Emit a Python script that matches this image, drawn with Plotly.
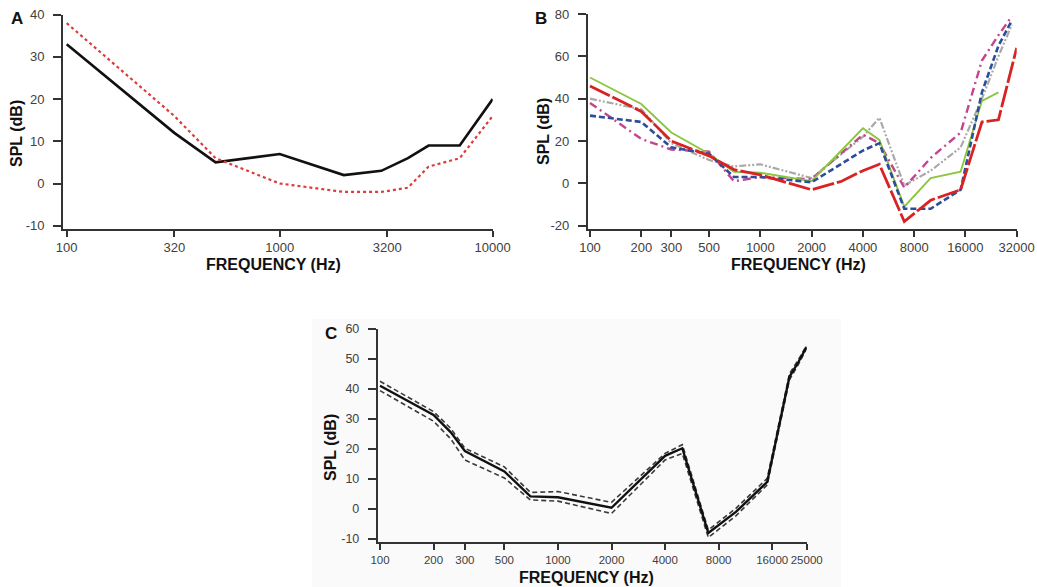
import plotly.graph_objects as go
import math

W, H = 1037, 587

# ---------------- Panel A data ----------------
a_freq = [100, 320, 500, 1000, 2000, 3000, 4000, 5000, 7000, 10000]
a_black = [33, 12, 5, 7, 2, 3, 6, 9, 9, 20]
a_red = [38, 16, 6, 0, -2, -2, -1, 4, 6, 16]
a_ticks = [100, 320, 1000, 3200, 10000]
a_yticks = [-10, 0, 10, 20, 30, 40]

# ---------------- Panel B data ----------------
b_freq_red = [100, 200, 300, 500, 700, 1000, 2000, 3000, 4000, 5000, 7000, 10000, 15000, 20000, 25000, 32000]
b_red = [46, 34, 20, 13, 6.5, 4, -3, 1, 6, 9, -18, -8, -3, 29, 30, 64]
b_freq_green = [100, 200, 300, 500, 700, 1000, 2000, 4000, 5000, 7000, 10000, 15000, 20000, 25000]
b_green = [50, 37.5, 24, 14, 5.5, 5, 1, 26, 20.5, -11, 2.5, 5.5, 39, 43]
b_freq_other = [100, 200, 300, 500, 700, 1000, 2000, 4000, 5000, 7000, 10000, 15000, 20000, 25000, 30000]
b_blue = [32, 29, 17, 14, 3, 3, 0.5, 15.5, 19, -12, -12, -3, 43, 65, 77]
b_pink = [38, 21, 16, 15, 1, 3, 2, 23, 19, -2, 12, 24, 58, 70, 79]
b_gray = [40, 35, 19, 11, 8, 9, 2.5, 22, 31, -1, 6, 17, 40, 60, 75]
b_ticks = [100, 200, 300, 500, 1000, 2000, 4000, 8000, 16000, 32000]
b_yticks = [-20, 0, 20, 40, 60, 80]

# ---------------- Panel C data ----------------
c_freq = [100, 200, 250, 300, 500, 700, 1000, 2000, 4000, 5000, 7000, 10000, 15000, 16000, 18000, 20000, 22500, 25000]
c_mean = [41, 31.3, 25.5, 19.3, 12.5, 4.2, 3.9, 0.4, 17.7, 20.2, -8, -1, 9, 17, 32, 44, 49, 54]
c_upper = [42.5, 32.4, 26.8, 20.2, 14, 5.5, 5.8, 2.2, 18.5, 21.4, -7, 0.2, 10.2, 18, 33, 45, 49.8, 54.5]
c_lower = [39.4, 29.2, 23.3, 16.3, 10.3, 3, 2.6, -1.5, 16.3, 18.5, -9.5, -2.3, 8, 16, 31, 43, 48.2, 53.5]
c_ticks = [100, 200, 300, 500, 1000, 2000, 4000, 8000, 16000, 25000]
c_yticks = [-10, 0, 10, 20, 30, 40, 50, 60]

FONT = "Liberation Sans, Arial, sans-serif"
AX = "#333333"
TICKC = "#404040"

def px(x):
    return x / W

def py(y):
    return 1 - y / H

fig = go.Figure()

# Panel A
fig.add_trace(go.Scatter(x=a_freq, y=a_black, mode="lines", line=dict(color="#111111", width=2.6),
                         xaxis="x", yaxis="y", showlegend=False))
fig.add_trace(go.Scatter(x=a_freq, y=a_red, mode="lines", line=dict(color="#e03a3a", width=2.2, dash="dot"),
                         xaxis="x", yaxis="y", showlegend=False))

# Panel B
fig.add_trace(go.Scatter(x=b_freq_other, y=b_gray, mode="lines",
                         line=dict(color="#a9a9a9", width=2.2, dash="7px,2px,2px,2px,2px,2px"),
                         xaxis="x2", yaxis="y2", showlegend=False))
fig.add_trace(go.Scatter(x=b_freq_other, y=b_pink, mode="lines",
                         line=dict(color="#c4448e", width=2.4, dash="8px,4px,2px,4px"),
                         xaxis="x2", yaxis="y2", showlegend=False))
fig.add_trace(go.Scatter(x=b_freq_green, y=b_green, mode="lines",
                         line=dict(color="#8cc63f", width=1.9),
                         xaxis="x2", yaxis="y2", showlegend=False))
fig.add_trace(go.Scatter(x=b_freq_other, y=b_blue, mode="lines",
                         line=dict(color="#2a4d9e", width=2.6, dash="6px,3px"),
                         xaxis="x2", yaxis="y2", showlegend=False))
fig.add_trace(go.Scatter(x=b_freq_red, y=b_red, mode="lines",
                         line=dict(color="#d92222", width=2.8, dash="22px,3px"),
                         xaxis="x2", yaxis="y2", showlegend=False))

# Panel C
fig.add_trace(go.Scatter(x=c_freq, y=c_upper, mode="lines",
                         line=dict(color="#3a3a3a", width=1.6, dash="5px,3px"),
                         xaxis="x3", yaxis="y3", showlegend=False))
fig.add_trace(go.Scatter(x=c_freq, y=c_lower, mode="lines",
                         line=dict(color="#3a3a3a", width=1.6, dash="5px,3px"),
                         xaxis="x3", yaxis="y3", showlegend=False))
fig.add_trace(go.Scatter(x=c_freq, y=c_mean, mode="lines",
                         line=dict(color="#111111", width=2.4),
                         xaxis="x3", yaxis="y3", showlegend=False))

def xax(domain, rng, ticks, anchor, size):
    return dict(type="log", domain=domain, range=rng, anchor=anchor,
                tickvals=ticks, ticktext=[str(t) for t in ticks],
                showline=True, linecolor=AX, linewidth=1.8, mirror=False,
                ticks="outside", ticklen=6, tickwidth=1.6, tickcolor=AX,
                tickangle=0, automargin=False,
                showgrid=False, zeroline=False,
                tickfont=dict(family=FONT, size=size, color=TICKC))

def yax(domain, rng, ticks, anchor, size):
    return dict(domain=domain, range=rng, anchor=anchor,
                tickvals=ticks, ticktext=[str(t) for t in ticks],
                showline=True, linecolor=AX, linewidth=1.8,
                ticks="outside", ticklen=8, tickwidth=1.6, tickcolor=AX,
                ticklabelstandoff=6, automargin=False,
                showgrid=False, zeroline=False,
                tickfont=dict(family=FONT, size=size, color=TICKC))

# Panel A geometry
a_x0, a_x1 = 63.0, 492.7
a_y40, a_ym10, a_axis = 14.7, 225.7, 228.7
a_ppu = (a_ym10 - a_y40) / 50.0
a_ybot = -10 - (a_axis - a_ym10) / a_ppu
a_dec = (a_x1 - 66.7) / 2.0
a_xlo = 2 - (66.7 - a_x0) / a_dec

# Panel B geometry
b_x0, b_x1 = 587.7, 1016.7
b_dec = (b_x1 - 590.0) / (math.log10(32000) - 2)
b_xlo = 2 - (590.0 - b_x0) / b_dec
b_y80, b_ym20, b_axis = 14.0, 225.7, 228.7
b_ppu = (b_ym20 - b_y80) / 100.0
b_ybot = -20 - (b_axis - b_ym20) / b_ppu

# Panel C geometry
c_x0, c_x1 = 377.7, 806.7
c_dec = (c_x1 - 380.0) / (math.log10(25000) - 2)
c_xlo = 2 - (380.0 - c_x0) / c_dec
c_y60, c_ym10, c_axis = 328.7, 539.0, 542.3
c_ppu = (c_ym10 - c_y60) / 70.0
c_ybot = -10 - (c_axis - c_ym10) / c_ppu

layout = dict(
    template="none",
    width=W, height=H, margin=dict(l=0, r=0, t=0, b=0, pad=0, autoexpand=False),
    paper_bgcolor="white", plot_bgcolor="rgba(0,0,0,0)",
    showlegend=False,
    xaxis=xax([px(a_x0), px(a_x1)], [a_xlo, 4.0], a_ticks, "y", 13),
    yaxis=yax([py(a_axis), py(a_y40)], [a_ybot, 40], a_yticks, "x", 13),
    xaxis2=xax([px(b_x0), px(b_x1)], [b_xlo, math.log10(32000)], b_ticks, "y2", 13),
    yaxis2=yax([py(b_axis), py(b_y80)], [b_ybot, 80], b_yticks, "x2", 13),
    xaxis3=xax([px(c_x0), px(c_x1)], [c_xlo, math.log10(25000)], c_ticks, "y3", 11.5),
    yaxis3=yax([py(c_axis), py(c_y60)], [c_ybot, 60], c_yticks, "x3", 12.5),
    shapes=[dict(type="rect", xref="paper", yref="paper",
                 x0=px(312), x1=px(841), y0=0, y1=py(319),
                 fillcolor="#fafafa", line=dict(width=0), layer="below")],
)

def ann(text, x, y, size=16, angle=0):
    return dict(text=text, x=px(x), y=py(y), xref="paper", yref="paper",
                showarrow=False, textangle=angle, xanchor="center", yanchor="middle",
                font=dict(family=FONT, size=size, color="#111111"))

layout["annotations"] = [
    ann("<b>A</b>", 17, 18, 17),
    ann("<b>B</b>", 541, 18, 17),
    ann("<b>C</b>", 331, 333, 17),
    ann("<b>SPL (dB)</b>", 17, 134, 16, -90),
    ann("<b>SPL (dB)</b>", 544, 132, 16, -90),
    ann("<b>SPL (dB)</b>", 330, 448, 16, -90),
    ann("<b>FREQUENCY (Hz)</b>", 273, 264, 16),
    ann("<b>FREQUENCY (Hz)</b>", 798, 264, 16),
    ann("<b>FREQUENCY (Hz)</b>", 586, 577, 16),
]

fig.update_layout(**layout)
fig.write_html(
    "out.html",
    config={"displayModeBar": False},
    post_script="document.body.style.margin='0';document.body.style.padding='0';"
                "document.documentElement.style.overflow='hidden';",
)
